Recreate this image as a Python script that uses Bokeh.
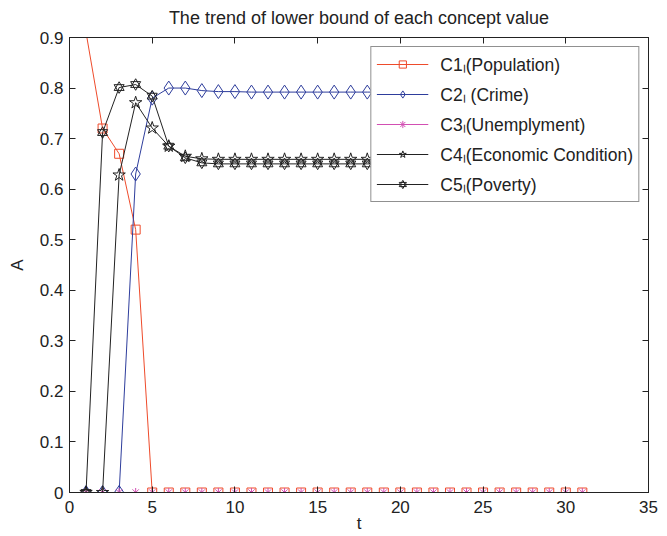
from bokeh.plotting import figure
from bokeh.models import (Range1d, FixedTicker, LinearAxis, Legend, LegendItem,
                          CustomLabelingPolicy)
from bokeh.embed import file_html
from bokeh.resources import INLINE

# ---------------- data ----------------
t = [1, 2, 3, 4, 5, 6, 7, 8, 9, 10, 11, 12, 13, 14, 15, 16,
     17, 18, 19, 20, 21, 22, 23, 24, 25, 26, 27, 28, 29, 30, 31]

c1_population = [0.91, 0.72, 0.67, 0.52, 0, 0, 0, 0, 0, 0, 0, 0, 0, 0, 0, 0,
                 0, 0, 0, 0, 0, 0, 0, 0, 0, 0, 0, 0, 0, 0, 0]
c2_crime = [0, 0, 0, 0.63, 0.78, 0.80, 0.80, 0.795, 0.793, 0.793, 0.792, 0.792,
            0.792, 0.792, 0.792, 0.792, 0.792, 0.792, 0.792, 0.792, 0.792, 0.792,
            0.792, 0.792, 0.792, 0.792, 0.792, 0.792, 0.792, 0.792, 0.792]
c3_unemployment = [0, 0, 0, 0, 0, 0, 0, 0, 0, 0, 0, 0, 0, 0, 0, 0,
                   0, 0, 0, 0, 0, 0, 0, 0, 0, 0, 0, 0, 0, 0, 0]
c4_economic = [0, 0, 0.628, 0.771, 0.721, 0.685, 0.665, 0.660, 0.659, 0.659,
               0.659, 0.659, 0.659, 0.659, 0.659, 0.659, 0.659, 0.659, 0.659,
               0.659, 0.659, 0.659, 0.659, 0.659, 0.659, 0.659, 0.659, 0.659,
               0.659, 0.659, 0.659]
c5_poverty = [0, 0.712, 0.801, 0.807, 0.784, 0.685, 0.662, 0.652, 0.650, 0.650,
              0.650, 0.650, 0.650, 0.650, 0.650, 0.650, 0.650, 0.650, 0.650,
              0.650, 0.650, 0.650, 0.650, 0.650, 0.650, 0.650, 0.650, 0.650,
              0.650, 0.650, 0.650]

labels = ["C1\u2097(Population)", "C2\u2097 (Crime)", "C3\u2097(Unemplyment)",
          "C4\u2097(Economic Condition)", "C5\u2097(Poverty)"]

x_ticks = [0, 5, 10, 15, 20, 25, 30, 35]
y_ticks = [0, 0.1, 0.2, 0.3, 0.4, 0.5, 0.6, 0.7, 0.8, 0.9]
y_tick_labels = ["0", "0.1", "0.2", "0.3", "0.4", "0.5", "0.6", "0.7", "0.8", "0.9"]

# ---------------- style ----------------
FONT = "Liberation Sans"
TXT = "#222222"
COL1 = "#ee4b2b"
COL2 = "#2e3d9c"
COL3 = "#d24fb3"
COL4 = "#222222"
COL5 = "#222222"

p = figure(width=667, height=536, x_range=Range1d(0, 35), y_range=Range1d(0, 0.9),
           output_backend="svg", toolbar_location=None,
           min_border_left=69, min_border_right=19, min_border_top=36, min_border_bottom=44,
           title="The trend of lower bound of each concept value")

p.title.text_font = FONT
p.title.text_font_size = "18px"
p.title.text_font_style = "normal"
p.title.text_color = TXT
p.title.align = "center"
p.title.standoff = 11

p.grid.visible = False
p.outline_line_color = "#222222"
p.outline_line_width = 1
p.background_fill_color = "white"
p.border_fill_color = "white"

def style_axis(ax, show_labels=True):
    ax.major_tick_in = 6
    ax.major_tick_out = 0
    ax.minor_tick_line_color = None
    ax.axis_line_color = "#222222"
    ax.major_tick_line_color = "#222222"
    ax.major_label_text_font = FONT
    ax.major_label_text_color = TXT
    ax.axis_label_text_font = FONT
    ax.axis_label_text_font_style = "normal"
    ax.axis_label_text_color = TXT
    ax.major_label_text_font_size = "17px"
    ax.axis_label_text_font_size = "17px"
    if not show_labels:
        ax.major_label_text_font_size = "1px"
        ax.major_label_standoff = 0
        ax.major_label_policy = CustomLabelingPolicy(code="return new Set()")

p.xaxis.ticker = FixedTicker(ticks=x_ticks)
p.yaxis.ticker = FixedTicker(ticks=y_ticks)
p.yaxis.major_label_overrides = {v: s for v, s in zip(y_ticks, y_tick_labels)}
p.xaxis.axis_label = "t"
p.yaxis.axis_label = "A"
style_axis(p.xaxis[0])
style_axis(p.yaxis[0])
p.xaxis.major_label_standoff = 8
p.xaxis.axis_label_standoff = -2
p.yaxis.major_label_standoff = 6
p.yaxis.axis_label_standoff = 10

top_ax = LinearAxis(ticker=FixedTicker(ticks=x_ticks))
right_ax = LinearAxis(ticker=FixedTicker(ticks=y_ticks))
style_axis(top_ax, False)
style_axis(right_ax, False)
p.add_layout(top_ax, "above")
p.add_layout(right_ax, "right")

# ---------------- series ----------------
l1 = p.line(t, c1_population, line_color=COL1, line_width=1)
m1 = p.scatter(t, c1_population, marker="square", size=9, fill_color=None,
               line_color=COL1, line_width=1)
l2 = p.line(t, c2_crime, line_color=COL2, line_width=1)
m2 = p.scatter(t, c2_crime, marker="diamond", size=14, fill_color=None,
               line_color=COL2, line_width=1)
l3 = p.line(t, c3_unemployment, line_color=COL3, line_width=1)
m3 = p.scatter(t, c3_unemployment, marker="asterisk", size=9,
               line_color=COL3, line_width=1)
l4 = p.line(t, c4_economic, line_color=COL4, line_width=1)
m4 = p.scatter(t, c4_economic, marker="star", size=13, fill_color=None,
               line_color=COL4, line_width=1)
l5 = p.line(t, c5_poverty, line_color=COL5, line_width=1)
m5a = p.scatter(t, c5_poverty, marker="triangle", size=10, fill_color=None,
                line_color=COL5, line_width=1)
m5b = p.scatter(t, c5_poverty, marker="inverted_triangle", size=10, fill_color=None,
                line_color=COL5, line_width=1)

items = [
    LegendItem(label=labels[0], renderers=[l1, m1]),
    LegendItem(label=labels[1], renderers=[l2, m2]),
    LegendItem(label=labels[2], renderers=[l3, m3]),
    LegendItem(label=labels[3], renderers=[l4, m4]),
    LegendItem(label=labels[4], renderers=[l5, m5a, m5b]),
]
legend = Legend(items=items, location="top_right")
legend.margin = 9
legend.padding = 5
legend.spacing = 6
legend.glyph_width = 52
legend.glyph_height = 18
legend.label_height = 18
legend.label_standoff = 12
legend.label_text_font = FONT
legend.label_text_font_size = "17.5px"
legend.label_text_color = TXT
legend.border_line_color = "#222222"
legend.border_line_width = 1
legend.background_fill_color = "white"
legend.background_fill_alpha = 1.0
p.add_layout(legend)

open("out.html", "w").write(file_html(p, INLINE))
